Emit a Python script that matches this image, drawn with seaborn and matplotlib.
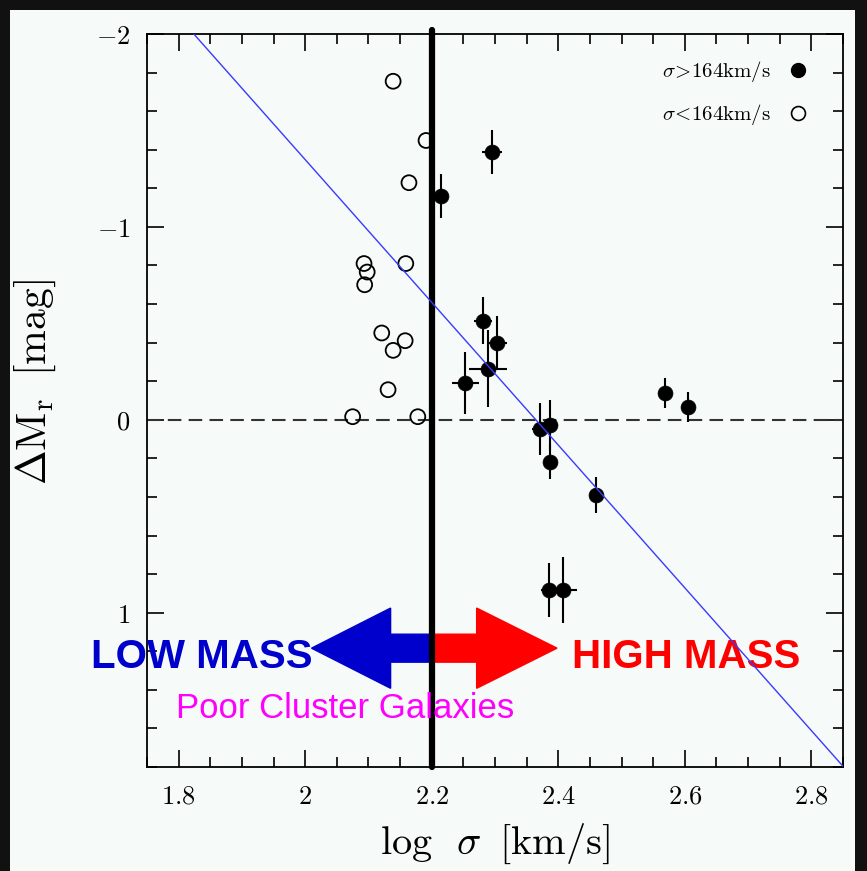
import numpy as np
import pandas as pd
import matplotlib
matplotlib.use('Agg')
import matplotlib.pyplot as plt
import seaborn as sns
from matplotlib.patches import FancyArrow, Rectangle
from matplotlib.lines import Line2D
from matplotlib.ticker import FixedLocator, FixedFormatter, MultipleLocator

# ---------------- data ----------------
# galaxies with sigma > 164 km/s (filled, with error bars)
hi_logsig = [2.295, 2.215, 2.281, 2.303, 2.289, 2.253, 2.371, 2.387, 2.387, 2.460, 2.569, 2.605, 2.385, 2.408]
hi_dM     = [-1.387, -1.158, -0.514, -0.400, -0.265, -0.192, 0.047, 0.026, 0.218, 0.390, -0.140, -0.068, 0.883, 0.883]
hi_xerr   = [0.016, 0.008, 0.014, 0.016, 0.030, 0.021, 0.012, 0.013, 0.008, 0.008, 0.005, 0.005, 0.012, 0.021]
hi_yerr   = [0.114, 0.114, 0.120, 0.140, 0.200, 0.160, 0.135, 0.130, 0.090, 0.094, 0.078, 0.078, 0.140, 0.170]

# galaxies with sigma < 164 km/s (open circles)
lo_logsig = [2.139, 2.191, 2.164, 2.093, 2.098, 2.094, 2.159, 2.121, 2.139, 2.158, 2.131, 2.075, 2.178]
lo_dM     = [-1.755, -1.448, -1.229, -0.810, -0.766, -0.700, -0.810, -0.450, -0.360, -0.410, -0.156, -0.016, -0.016]

# fitted relation: dM = slope * (logsig - x_at_top) + (-2)
fit_slope = 3.70
fit_x_at_top = 1.824
fit_range = [1.75, 2.85]

split_logsig = 2.2

xticks = [1.8, 2.0, 2.2, 2.4, 2.6, 2.8]
xticklabels = ['1.8', '2', '2.2', '2.4', '2.6', '2.8']
yticks = [-2, -1, 0, 1]
yticklabels = ['-2', '-1', '0', '1']
legend_labels = [r'\sigma\!>\!164\mathrm{km/s}', r'\sigma\!<\!164\mathrm{km/s}']

# ---------------- style ----------------
sns.set_style('ticks')
plt.rcParams['mathtext.fontset'] = 'cm'
plt.rcParams['font.family'] = ['DejaVu Serif']
for k in ['text.color', 'axes.labelcolor', 'xtick.color', 'ytick.color']:
    plt.rcParams[k] = 'black'

BG = '#f6faf8'
fig = plt.figure(figsize=(8.67, 8.71), dpi=100, facecolor='#111111')
fig.patches.append(Rectangle((10 / 867, 0), (855 - 10) / 867, 1 - 10 / 871,
                             transform=fig.transFigure, facecolor=BG,
                             edgecolor='none', zorder=-10))
ax = fig.add_axes([147 / 867, 1 - 767 / 871, (843 - 147) / 867, (767 - 34) / 871])
ax.set_facecolor(BG)

# fit line
fit_x = np.array(fit_range)
fit_y = fit_slope * (fit_x - fit_x_at_top) - 2.0
sns.lineplot(x=fit_x, y=fit_y, ax=ax, color='#3a3aff', lw=1.0, zorder=7)

# zero line
ax.axhline(0, color='#333333', lw=1.5, dashes=(6.5, 3.5), zorder=2)

# error bars + filled points
ax.errorbar(hi_logsig, hi_dM, xerr=hi_xerr, yerr=hi_yerr, fmt='none',
            ecolor='black', elinewidth=1.5, capsize=0, zorder=3)
sns.scatterplot(x=hi_logsig, y=hi_dM, ax=ax, s=115, color='black',
                edgecolor='black', linewidth=0.5, zorder=4)
# open points
sns.scatterplot(x=lo_logsig, y=lo_dM, ax=ax, s=115, color='black', zorder=4)
coll = ax.collections[-1]
coll.set_facecolor('none')
coll.set_edgecolor('black')
coll.set_linewidth(1.3)

# arrows
ay = 1.184
ax.add_patch(FancyArrow(split_logsig, ay, -0.190, 0, width=0.145, head_width=0.416,
                        head_length=0.125, length_includes_head=True,
                        color='#0000cc', zorder=5))
ax.add_patch(FancyArrow(split_logsig, ay, 0.198, 0, width=0.145, head_width=0.416,
                        head_length=0.127, length_includes_head=True,
                        color='#ff0000', zorder=5))

# thick split line
ax.axvline(split_logsig, ymin=0, ymax=1.006, color='black', lw=4.5, zorder=6,
           clip_on=False)

# texts
ax.text(1.837, 1.288, 'LOW MASS', color='#0000cc', fontsize=29, fontweight='bold',
        ha='center', va='baseline', family='Liberation Sans', zorder=8)
ax.text(2.602, 1.288, 'HIGH MASS', color='#ff0000', fontsize=29, fontweight='bold',
        ha='center', va='baseline', family='Liberation Sans', zorder=3)
ax.text(2.0635, 1.548, 'Poor Cluster Galaxies', color='#ff00ff', fontsize=25,
        ha='center', va='baseline', family='Liberation Sans', zorder=8)

# axes
ax.set_xlim(1.75, 2.85)
ax.set_ylim(1.8, -2.0)
ax.xaxis.set_major_locator(FixedLocator(xticks))
ax.xaxis.set_major_formatter(FixedFormatter(['$' + t + '$' for t in xticklabels]))
ax.xaxis.set_minor_locator(MultipleLocator(0.05))
ax.yaxis.set_major_locator(FixedLocator(yticks))
ax.yaxis.set_major_formatter(FixedFormatter(['$' + t + '$' for t in yticklabels]))
ax.yaxis.set_minor_locator(MultipleLocator(0.2))
ax.tick_params(which='both', direction='in', top=True, right=True, width=1.2,
               color='black', labelsize=19, labelcolor='black')
ax.tick_params(which='major', length=12, pad=12)
ax.tick_params(which='minor', length=7)
for s in ax.spines.values():
    s.set_linewidth(1.3)
    s.set_color('black')

ax.set_xlabel(r'$\log\;\;\sigma\;\;[\mathrm{km/s}]$', fontsize=29, color='black')
ax.xaxis.set_label_coords(0.5, -0.074)
ax.set_ylabel(r'$\Delta\mathrm{M_r}\;\;[\mathrm{mag}]$', fontsize=30, color='black')
ax.yaxis.set_label_coords(-0.128, 0.525)

handles = [Line2D([], [], marker='o', ls='none', color='black', markersize=10),
           Line2D([], [], marker='o', ls='none', mfc='none', mec='black',
                  markersize=10, mew=1.2)]
leg = ax.legend(handles, ['$' + l + '$' for l in legend_labels], loc='upper right',
                bbox_to_anchor=(0.962, 0.977), borderaxespad=0, frameon=False,
                markerfirst=False, handlelength=1.0, handletextpad=0.8,
                labelspacing=0.85, fontsize=15)

fig.savefig('out.png', dpi=100, facecolor=fig.get_facecolor())
